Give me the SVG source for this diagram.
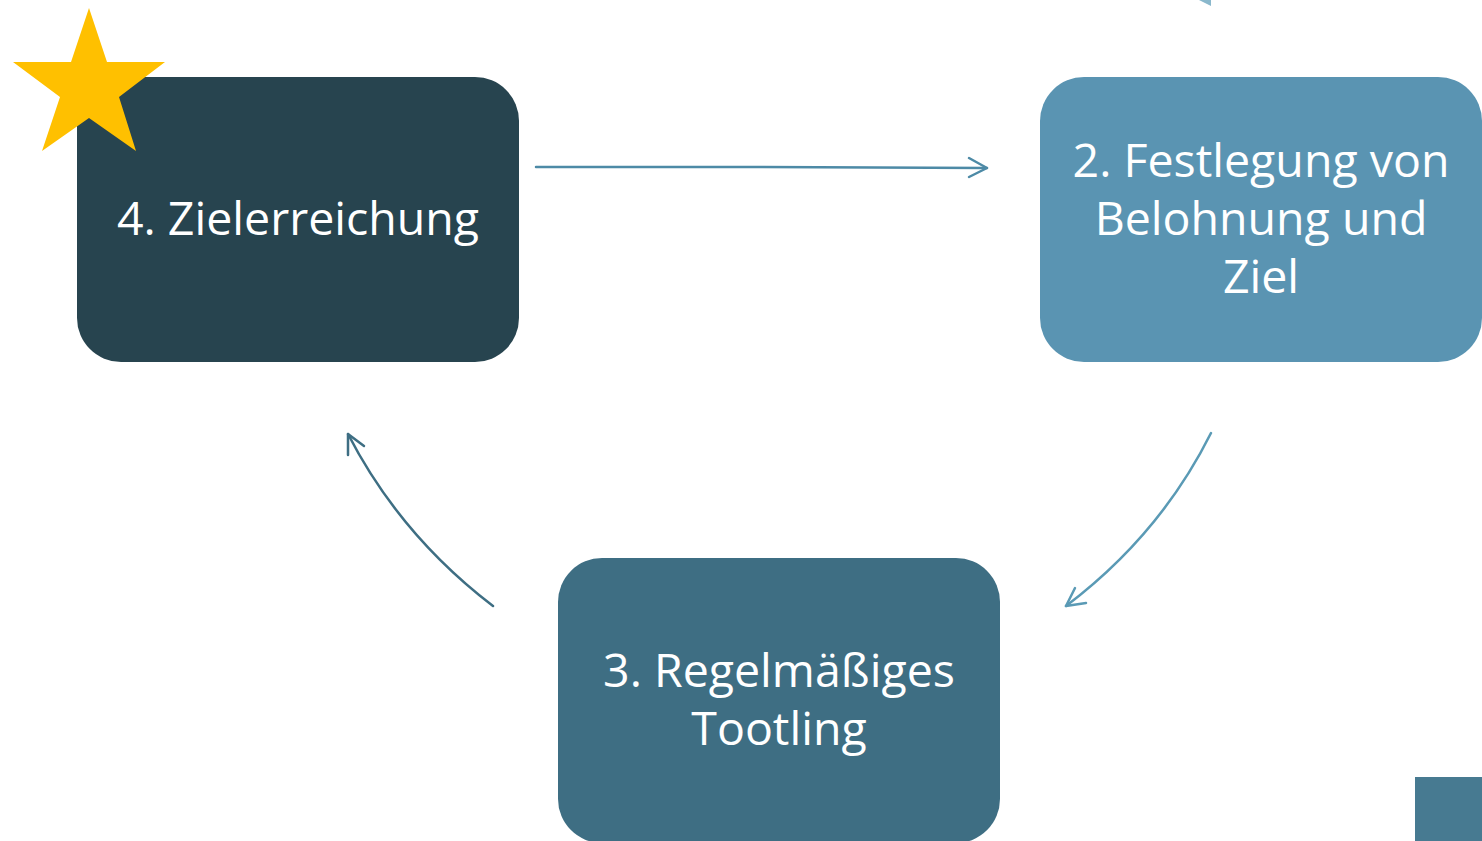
<svg xmlns="http://www.w3.org/2000/svg" width="1482" height="841" viewBox="0 0 1482 841">
<defs>
<style>
.lbl{font-family:"Open Sans","Noto Sans","Liberation Sans",sans-serif;font-size:46.5px;fill:#ffffff;text-anchor:middle}
.con{fill:none;stroke-width:2.5;stroke-linecap:round;stroke-linejoin:round}
</style>
</defs>
<rect width="1482" height="841" fill="#ffffff"/>
<polygon points="1199,0 1211,0 1211,6" fill="#8ab8cc"/>
<g id="node4">
<rect x="77" y="77" width="442" height="285" rx="44" fill="#27444f"/>
<text class="lbl" x="298" y="235">4. Zielerreichung</text>
</g>
<g id="star">
<polygon points="89,8 107,62 165,62 119,97 136,151 89,118 42,151 60,97 13,62 71,62" fill="#ffc000"/>
</g>
<g id="node2">
<rect x="1040" y="77" width="442" height="285" rx="44" fill="#5a94b2"/>
<text class="lbl" x="1261" y="177">2. Festlegung von</text>
<text class="lbl" x="1261" y="235">Belohnung und</text>
<text class="lbl" x="1261" y="293">Ziel</text>
</g>
<g id="node3">
<rect x="558" y="558" width="442" height="285" rx="44" fill="#3e6e83"/>
<text class="lbl" x="779" y="687">3. Regelmäßiges</text>
<text class="lbl" x="779" y="745">Tootling</text>
</g>
<g id="corner">
<rect x="1415" y="777" width="67" height="64" fill="#477a91"/>
</g>
<g id="connectors">
<path class="con" stroke="#4d8aa6" d="M536,167 L760,167 L987,168"/>
<path class="con" stroke="#4d8aa6" d="M969,158 L987,168 L969,177"/>
<path class="con" stroke="#5a9ab5" d="M1211,433 Q1160,535 1066,606"/>
<path class="con" stroke="#5a9ab5" d="M1075,588 L1066,606 L1086,603"/>
<path class="con" stroke="#3e6e83" d="M493,606 Q400,535 348,434"/>
<path class="con" stroke="#3e6e83" d="M348,455 L348,434 L364,446"/>
</g>
</svg>
